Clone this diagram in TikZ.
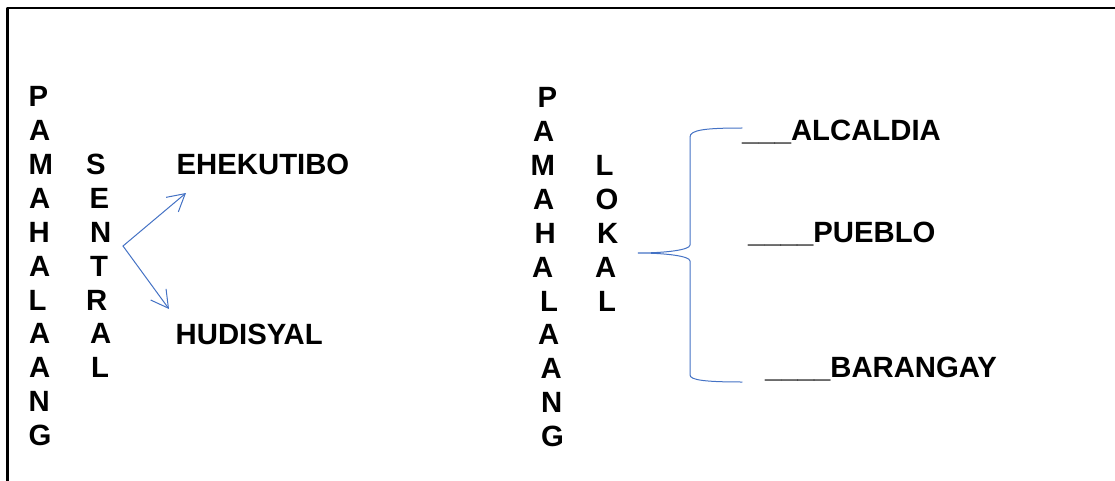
\documentclass[tikz,border=0pt]{standalone}
\usepackage{fontspec}
\setmainfont{Liberation Sans}
\usetikzlibrary{arrows.meta, positioning}
\definecolor{wordblue}{RGB}{68, 114, 196}
\tikzset{
  letter/.style={font=\bfseries\fontsize{29.3}{34}\selectfont, inner sep=0pt, anchor=base west},
  link/.style={wordblue, line width=1pt, -{Straight Barb[length=17pt, width=19pt]}},
  brace/.style={wordblue, line width=1pt}
}

\begin{document}
\begin{tikzpicture}[x=1pt, y=-1pt, line cap=round, line join=round]
			\useasboundingbox (0,0) rectangle (1115,481);

			% -- Frame --
			\draw[line width=2.2pt] (7.5,481) -- (7.5,8) -- (1115,8);

			% -- Pamahalaang Sentral --
			\foreach \l/\x [count=\i from 0] in {P/28.5,A/29,M/28.5,A/29,H/28.5,A/29,L/28.5,A/29,A/29,N/28.5,G/28.5}
				\node[letter] (lpam\i) at (\x, 107+33.85*\i) {\l};
			\foreach \l/\x [count=\i from 2] in {S/86,E/89.5,N/90,T/90,R/86,A/90,L/91}
				\node[letter] (sen\i) at (\x, 107+33.85*\i) {\l};
			\node[letter] (exec) at (176.5, 174.7) {EHEKUTIBO};
			\node[letter] (jud) at (175.5, 344) {HUDISYAL};

			% arrows out of the fork
			\coordinate (fork) at (123,246);
			\coordinate (toexec) at (186,193);
			\coordinate (tojud) at (169,309);
			\draw[link] (fork) -- (toexec);
			\draw[link] (fork) -- (tojud);

			% -- Pamahalaang Lokal --
			\foreach \l/\x [count=\i from 0] in {P/537.5,A/533,M/530.5,A/533,H/534.5,A/532,L/540,A/538,A/540.5,N/541,G/541}
				\node[letter] (rpam\i) at (\x, 108+33.85*\i) {\l};
			\foreach \l/\x [count=\i from 2] in {L/595.5,O/595.5,K/597,A/595,L/598}
				\node[letter] (lok\i) at (\x, 108+33.85*\i) {\l};
			\node[letter] (alc) at (742, 140.8) {\_\_\_ALCALDIA};
			\node[letter] (pue) at (748, 242.4) {\_\_\_\_PUEBLO};
			\node[letter] (bar) at (765, 377.8) {\_\_\_\_BARANGAY};

			% brace (tip at LOKAL)
			\coordinate (bracetip) at (638,253);
			\coordinate (bracetop) at (742,128);
			\coordinate (bracebot) at (742,382);
			\draw[brace] (bracetop) .. controls (705,128) and (690,130) .. (690,137) -- (690,245)
				.. controls (690,250) and (665,253) .. (bracetip)
				.. controls (665,253) and (690,256) .. (690,261) -- (690,375)
				.. controls (690,380) and (705,382) .. (bracebot);

		\end{tikzpicture}
\end{document}
